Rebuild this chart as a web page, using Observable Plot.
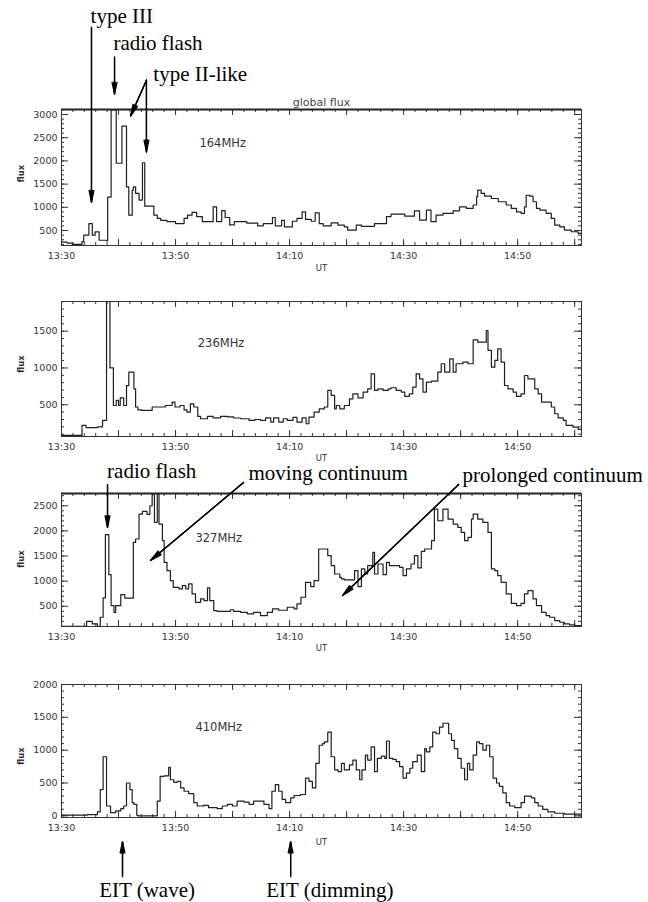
<!DOCTYPE html>
<html><head><meta charset="utf-8">
<script src="https://cdn.jsdelivr.net/npm/d3@7"></script>
<script src="https://cdn.jsdelivr.net/npm/@observablehq/plot@0.6"></script>
<style>
html,body{margin:0;padding:0;background:#fff;}
#chart{width:648px;height:902px;position:relative;overflow:hidden;background:#fff;}
#chart svg{display:block;}
</style></head><body><div id="chart"></div>
<script>
// ---- x axis (minutes after 13:30 UT) ----
const timeTicks = [0, 20, 40, 60, 80];
const timeTickLabels = ["13:30", "13:50", "14:10", "14:30", "14:50"];

// ---- 164 MHz ----
const t164 = [0,1.0,1.9,3.6,3.9,4.8,5.4,5.9,6.6,7.9,8.1,8.7,9.6,10.6,11.4,11.8,12.4,12.6,13.0,13.6,14.2,14.6,16.2,16.8,17.4,18.5,20.0,21.5,22.1,22.9,23.7,24.7,26.6,27.2,28.1,28.7,29.5,30.3,32.5,34.4,35.4,37.0,37.5,38.6,39.1,40.5,41.3,42.2,42.8,43.8,44.5,45.2,45.9,47.3,48.5,49.6,50.2,51.7,52.6,54.9,57.0,57.8,60.2,61.9,62.8,64.0,64.8,65.7,66.9,68.7,69.8,71.0,72.2,72.8,73.0,73.6,74.2,75.4,76.6,78.0,78.9,79.8,80.6,81.2,81.5,82.1,82.7,83.3,83.9,85.0,85.9,86.5,87.4,88.2,89.4,90.6,91.2];
const f164 = [250,230,200,260,400,650,400,470,290,280,1220,3100,1950,2750,1440,830,1370,1440,1300,1155,1960,1025,830,760,720,690,650,760,830,890,800,690,1010,690,930,780,620,690,660,600,650,780,600,720,580,700,760,900,740,700,880,650,600,665,616,580,510,616,590,650,800,853,810,925,724,940,690,830,870,925,1010,975,1050,1230,1370,1300,1240,1190,1120,1050,975,900,870,1010,1260,1240,1120,975,940,870,760,616,580,510,473,440,440];

// ---- 236 MHz ----
const t236 = [0,3.6,4.3,6.3,7.2,7.9,8.5,9.1,9.6,10.0,10.3,10.9,11.4,11.8,12.7,13.0,13.4,14.0,15.9,18.2,19.4,19.9,20.8,21.5,22.0,22.6,23.2,23.9,24.4,25.6,26.6,27.9,29.1,30.2,31.4,32.9,33.9,34.9,35.8,36.7,37.2,38.1,38.9,39.6,40.6,41.3,42.2,42.9,43.4,44.3,45.2,46.1,46.7,47.3,47.9,48.2,48.8,49.6,50.5,51.1,52.0,52.9,53.7,54.3,54.9,55.5,56.4,57.3,57.8,58.7,59.6,60.2,61.0,61.6,62.2,62.8,63.4,64.0,64.9,66.0,66.6,67.2,68.1,68.7,69.2,70.4,71.3,72.2,73.0,74.5,74.8,75.4,76.0,76.5,77.1,77.7,78.3,79.2,79.8,80.6,81.2,81.8,83.0,83.6,84.2,85.9,86.5,87.1,88.0,88.5,89.7,90.6,91.2];
const f236 = [84,220,190,200,287,1950,1000,490,560,490,595,490,760,943,717,470,432,423,470,490,536,470,490,430,400,513,470,342,310,342,323,342,335,320,310,287,300,287,323,265,323,265,310,287,330,265,323,242,333,400,445,470,695,627,445,490,445,490,581,649,595,672,717,921,695,717,695,717,731,695,672,613,649,740,921,853,672,808,821,943,1057,943,1124,943,1057,1080,1057,1382,1350,1509,1240,1011,1102,1260,1080,762,717,672,613,649,898,853,717,649,536,470,378,323,287,220,197,165,165];

// ---- 327 MHz ----
const t327 = [0,4.4,5.4,6.3,6.8,7.3,7.7,8.3,8.7,9.2,9.5,10.4,11.1,12.6,13.0,13.6,14.2,15.0,15.5,15.9,16.3,16.8,17.1,17.7,18.0,18.5,19.1,19.6,20.6,21.2,21.8,22.3,22.9,23.5,24.4,25.0,25.6,26.0,26.7,27.3,29.6,30.2,31.4,32.6,33.7,34.9,36.1,37.0,38.1,39.6,40.8,41.3,42.0,42.8,43.7,44.3,45.1,46.7,47.3,47.9,48.8,49.1,49.6,51.4,52.0,52.6,53.2,53.7,54.6,54.9,55.5,56.4,57.0,57.5,59.3,59.9,60.5,61.3,61.9,62.5,63.1,63.7,64.9,65.4,66.0,66.9,67.8,68.7,69.5,70.1,70.7,71.3,71.9,72.2,73.0,73.9,74.8,75.4,76.0,76.5,77.1,78.0,78.9,79.8,80.6,81.2,81.8,82.7,83.3,84.2,85.0,85.6,86.5,87.4,88.2,89.1,90.0,91.2];
const f327 = [100,200,150,100,281,665,1924,1129,513,380,513,732,660,1771,1838,2334,2387,2330,2500,2745,2170,2745,2135,1805,1374,1209,1010,877,844,910,844,944,745,579,646,610,864,610,414,400,430,400,380,348,380,315,380,447,420,480,447,546,679,977,891,1010,1639,1507,1308,1142,1076,1043,1023,1209,891,1242,1142,1308,1573,1142,1341,1129,1374,1308,1275,1109,1242,1341,1507,1262,1593,1639,1805,2434,2202,2434,2235,2136,2070,1970,1805,1871,2235,2334,2235,2169,1970,1242,1209,1109,977,745,559,513,559,745,811,646,513,380,315,281,215,182,149,129,116,116];

// ---- 410 MHz ----
const t410 = [0,4.5,6.3,6.8,7.3,7.9,8.6,9.5,10.4,10.9,11.4,12.0,12.4,12.7,13.2,13.4,16.8,17.3,18.0,18.8,19.1,19.7,20.3,20.9,21.5,22.3,23.2,23.8,24.9,25.8,27.3,28.2,29.1,30.0,30.8,32.0,32.9,33.7,35.5,36.4,36.9,37.5,38.1,38.7,39.3,40.2,40.8,41.9,42.8,43.4,44.0,44.6,45.2,45.8,46.1,46.7,47.3,47.9,48.5,49.1,49.6,50.5,51.1,51.7,52.3,52.7,53.3,53.7,54.3,54.9,55.4,56.1,56.7,57.0,57.5,58.1,58.7,59.3,59.9,60.5,61.1,61.6,62.4,63.1,63.7,64.0,64.6,65.1,65.7,66.3,66.9,67.9,68.4,68.9,69.5,70.1,70.7,71.2,71.6,72.2,72.8,73.3,73.9,74.5,75.1,75.7,76.3,76.8,77.4,78.0,78.6,79.5,80.6,81.2,82.4,83.0,83.6,84.4,85.3,86.5,88.2,91.2];
const f410 = [10,20,60,400,900,150,50,75,110,150,500,400,200,175,10,0,225,600,610,740,550,510,525,425,375,340,200,150,160,125,110,150,175,150,225,210,175,225,175,110,375,475,375,250,200,275,310,325,575,525,425,800,1075,1100,1125,1275,900,700,675,800,700,775,850,700,550,700,925,850,1050,675,875,910,875,1140,875,860,825,750,575,650,725,825,925,675,1025,975,1050,1275,1250,1350,1410,1250,1150,1025,875,725,550,800,700,925,1125,1100,1000,1075,900,575,500,450,350,200,150,125,200,300,275,200,150,100,60,40,25,25];

// ---- y tick labels ----
const yTicks164 = [500, 1000, 1500, 2000, 2500, 3000];
const yTicks236 = [500, 1000, 1500];
const yTicks327 = [500, 1000, 1500, 2000, 2500];
const yTicks410 = [0, 500, 1000, 1500, 2000];

// ---- frequency labels ----
const bandLabels = ["164MHz", "236MHz", "327MHz", "410MHz"];
const bandLabelT = [24.2, 23.9, 23.5, 23.5];
const bandLabelF = [2382, 1332, 1848, 1345];

// ---- annotations (164 MHz panel) ----
const topNoteText = ["type III", "radio flash", "type II-like"];
const topNoteT = [5.1, 9.1, 16.1];
const topNoteF = [4968, 4386, 3718];
const topArrowT1 = [5.26, 9.3, 14.9, 14.9];
const topArrowF1 = [4881, 4235, 3739, 3739];
const topArrowT2 = [5.26, 9.3, 12.1, 14.9];
const topArrowF2 = [1110, 3438, 2964, 2194];

// ---- annotations (327 MHz panel) ----
const midNoteText = ["radio flash", "moving continuum", "prolonged continuum"];
const midNoteT = [8.0, 32.8, 70.35];
const midNoteF = [3043, 3003, 2963];
const midArrowT1 = [8.07, 31.93, 69.65];
const midArrowF1 = [2923, 2963, 2923];
const midArrowT2 = [8.07, 15.61, 49.3];
const midArrowF2 = [2067, 1411, 714];

// ---- annotations (410 MHz panel) ----
const botNoteText = ["EIT (wave)", "EIT (dimming)"];
const botNoteT = [6.6, 35.9];
const botNoteF = [-1229, -1229];
const botArrowT = [10.7, 40.18];
const botArrowF1 = [-924, -924];
const botArrowF2 = [-391, -391];

// ================= drawing =================
const W = 648, ML = 61, MR = 67;
const xDomain = [0, 91.2];
const serif = "'Liberation Serif', 'Times New Roman', Times, serif";
const sans = "'DejaVu Sans', 'Liberation Sans', Arial, sans-serif";

const zip = (a, b) => a.map((v, i) => ({t: v, f: b[i]}));
const notes = (text, t, f) => text.map((s, i) => ({s, t: t[i], f: f[i]}));
const arrowsData = (t1, f1, t2, f2) => t1.map((v, i) => ({t1: v, f1: f1[i], t2: t2[i], f2: f2[i]}));

function noteMarks(nd) {
  return Plot.text(nd, {x: "t", y: "f", text: "s", textAnchor: "start", lineAnchor: "bottom",
    fontFamily: serif, fontSize: 21, fill: "#000"});
}
function arrowMarks(ad) {
  return [24, 15, 7].map(a => Plot.arrow(ad, {x1: "t1", y1: "f1", x2: "t2", y2: "f2",
    stroke: "#000", strokeWidth: 1.2, headLength: 15, headAngle: a}));
}

function makePanel(cfg) {
  const H = cfg.height;
  const mt = cfg.frameTop, mb = H - cfg.frameBottom;
  const fh = cfg.frameBottom - cfg.frameTop, fw = W - ML - MR;
  const [y0, y1] = cfg.yDomain;
  const yMajor = d3.range(Math.ceil(y0 / 500) * 500, y1 + 1, 500);
  const yMinor = d3.range(Math.ceil(y0 / 100) * 100, y1 + 1, 100);
  const xMajor = d3.range(0, xDomain[1], 10);
  const xMinor = d3.range(0, xDomain[1], 2);
  const ts = {stroke: "#333", strokeWidth: 1};
  const i = cfg.index;
  const marks = [
    Plot.tickX(xMinor, {x: d => d, insetTop: fh - 3, ...ts}),
    Plot.tickX(xMajor, {x: d => d, insetTop: fh - 6, ...ts}),
    Plot.tickX(xMinor, {x: d => d, insetBottom: fh - 3, ...ts}),
    Plot.tickX(xMajor, {x: d => d, insetBottom: fh - 6, ...ts}),
    Plot.tickY(yMinor, {y: d => d, insetRight: fw - 3, ...ts}),
    Plot.tickY(yMajor, {y: d => d, insetRight: fw - 7, ...ts}),
    Plot.tickY(yMinor, {y: d => d, insetLeft: fw - 3, ...ts}),
    Plot.tickY(yMajor, {y: d => d, insetLeft: fw - 7, ...ts}),
    Plot.frame({stroke: "#333", strokeWidth: 1}),
    Plot.line(zip(cfg.t, cfg.f), {x: "t", y: "f", curve: "step-after", stroke: "#1e1e1e", strokeWidth: 1.2, clip: true}),
    Plot.text([bandLabels[i]], {x: () => bandLabelT[i], y: () => bandLabelF[i], text: d => d,
      textAnchor: "start", fontFamily: sans, fontSize: 11.5, fill: "#333"}),
    Plot.text(["UT"], {frameAnchor: "bottom", lineAnchor: "middle", text: d => d, dy: cfg.utDy,
      fontFamily: sans, fontSize: 8.5, fill: "#333"}),
    Plot.text(["flux"], {frameAnchor: "left", lineAnchor: "middle", text: d => d, dx: -40, dy: cfg.fluxDy, rotate: -90,
      fontFamily: sans, fontSize: 8.5, fontWeight: "bold", fill: "#333"})
  ];
  if (cfg.thickTop) marks.push(Plot.ruleY([y1], {stroke: "#222", strokeWidth: 1.8}));
  if (cfg.extra) marks.push(...cfg.extra);
  return Plot.plot({
    width: W, height: H,
    marginLeft: ML, marginRight: MR, marginTop: mt, marginBottom: mb,
    style: {background: "transparent", overflow: "visible", fontFamily: sans, fontSize: "9.5px", color: "#333"},
    x: {domain: xDomain, ticks: timeTicks, tickFormat: d => timeTickLabels[timeTicks.indexOf(d)],
        tickSize: 0, tickPadding: 7, label: null},
    y: {domain: cfg.yDomain, ticks: cfg.yTicks, tickFormat: d3.format("d"), tickSize: 0, tickPadding: 4, label: null},
    marks
  });
}

const panels = [
  {index: 0, t: t164, f: f164, yDomain: [177, 3108], yTicks: yTicks164, height: 285,
   frameTop: 109, frameBottom: 245, utDy: 23, fluxDy: 5, thickTop: true,
   extra: [
     Plot.text(["global flux"], {frameAnchor: "top", lineAnchor: "bottom", text: d => d, dy: -4,
       fontFamily: sans, fontSize: 11, fill: "#444"}),
     noteMarks(notes(topNoteText, topNoteT, topNoteF)),
     ...arrowMarks(arrowsData(topArrowT1, topArrowF1, topArrowT2, topArrowF2))
   ]},
  {index: 1, t: t236, f: f236, yDomain: [69, 1903], yTicks: yTicks236, height: 177,
   frameTop: 16, frameBottom: 151, utDy: 22, fluxDy: 4},
  {index: 2, t: t327, f: f327, yDomain: [97, 2744], yTicks: yTicks327, height: 198,
   frameTop: 31, frameBottom: 164, utDy: 22, fluxDy: 8, thickTop: true,
   extra: [
     noteMarks(notes(midNoteText, midNoteT, midNoteF)),
     ...arrowMarks(arrowsData(midArrowT1, midArrowF1, midArrowT2, midArrowF2))
   ]},
  {index: 3, t: t410, f: f410, yDomain: [-25, 2000], yTicks: yTicks410, height: 242,
   frameTop: 24, frameBottom: 157, utDy: 25, fluxDy: 14,
   extra: [
     noteMarks(notes(botNoteText, botNoteT, botNoteF)),
     ...arrowMarks(arrowsData(botArrowT, botArrowF1, botArrowT, botArrowF2))
   ]}
];

const root = document.getElementById("chart");
for (const p of panels) root.appendChild(makePanel(p));
</script>
</body></html>
